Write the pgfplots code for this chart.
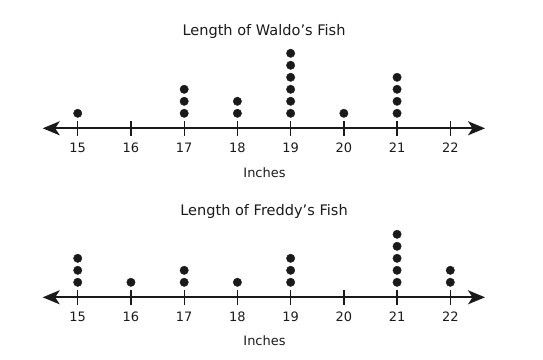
\documentclass[border=0pt]{standalone}
\usepackage{pgfplots}
\pgfplotsset{compat=1.18}
\usepackage{fontspec}
\setmainfont{DejaVu Sans}
\usetikzlibrary{arrows.meta}
\definecolor{ink}{HTML}{1A1A1A}
\pgfplotsset{
  numline/.style={
    scale only axis,
    width=442.3bp, height=81bp,
    xmin=14.342, xmax=22.652,
    ymin=-0.25, ymax=6.5,
    axis x line=bottom, axis y line=none,
    x axis line style={line width=1.8bp, ink, {Stealth[length=17bp,width=14bp,inset=4.5bp]}-{Stealth[length=17bp,width=14bp,inset=4.5bp]}},
    xtick={15,...,22},
    tick align=center,
    major tick length=15bp,
    tick style={line width=1.3bp, ink},
    /pgf/number format/assume math mode=true,
    xticklabel style={font=\fontsize{13}{15}\selectfont, text=ink, anchor=center, yshift=-12bp},
    clip=false,
  },
  dots/.style={only marks, mark=*, mark size=4.2bp, color=ink, mark options={fill=ink, draw=ink}},
}
\begin{document}
\begin{tikzpicture}[x=1bp,y=1bp]
\useasboundingbox (0,0) rectangle (543,359);
\begin{axis}[numline, at={(42.7bp,230.7bp)}, anchor=south west]
\addplot[dots] coordinates {
 (15,1)
 (17,1) (17,2) (17,3)
 (18,1) (18,2)
 (19,1) (19,2) (19,3) (19,4) (19,5) (19,6)
 (20,1)
 (21,1) (21,2) (21,3) (21,4)
};
\end{axis}
\begin{axis}[numline, at={(42.7bp,61.7bp)}, anchor=south west]
\addplot[dots] coordinates {
 (15,1) (15,2) (15,3)
 (16,1)
 (17,1) (17,2)
 (18,1)
 (19,1) (19,2) (19,3)
 (21,1) (21,2) (21,3) (21,4) (21,5)
 (22,1) (22,2)
};
\end{axis}
\node[font=\fontsize{14.6}{17}\selectfont, text=ink] at (264,327.3) {Length of Waldo’s Fish};
\node[font=\fontsize{13}{15}\selectfont, text=ink] at (264.5,186.3) {Inches};
\node[font=\fontsize{14.6}{17}\selectfont, text=ink] at (264,147.3) {Length of Freddy’s Fish};
\node[font=\fontsize{13}{15}\selectfont, text=ink] at (264.5,18.3) {Inches};
\end{tikzpicture}
\end{document}
